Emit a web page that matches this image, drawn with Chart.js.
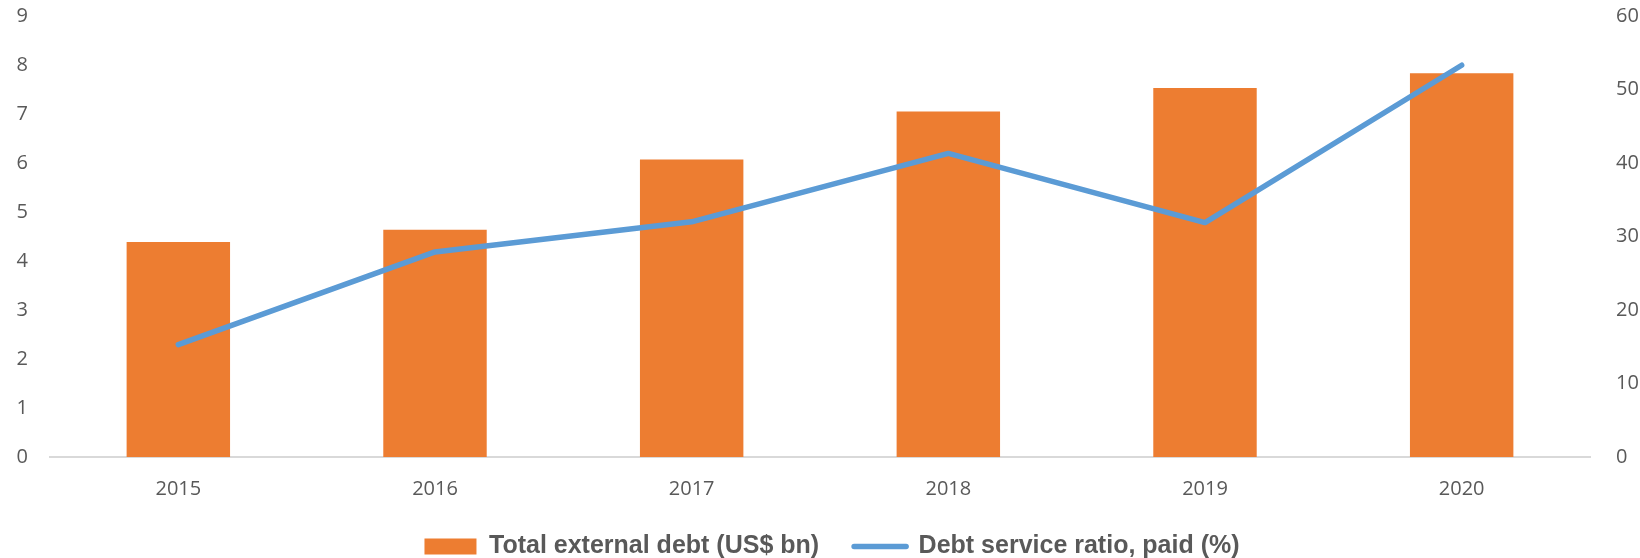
<!DOCTYPE html>
<html>
<head>
<meta charset="utf-8">
<title>External debt</title>
<script src="https://cdn.jsdelivr.net/npm/chart.js@4/dist/chart.umd.min.js"></script>
<style>
  html, body { margin: 0; padding: 0; background: #ffffff; }
  #wrap { width: 1640px; height: 558px; position: relative; }
</style>
</head>
<body>
<div id="wrap"><canvas id="debt-chart"></canvas></div>
<script>
// Data
const years = ['2015', '2016', '2017', '2018', '2019', '2020'];
const externalDebt = [4.39, 4.64, 6.07, 7.05, 7.53, 7.83];      // US$ bn, left axis
const debtServiceRatio = [15.3, 27.9, 32.0, 41.3, 31.9, 53.3];  // %, right axis
const leftTicks = [0, 1, 2, 3, 4, 5, 6, 7, 8, 9];
const rightTicks = [0, 10, 20, 30, 40, 50, 60];

const ORANGE = '#ed7d31';
const BLUE = '#5b9bd5';
const TEXT = '#595959';
const AXIS_LINE = '#d9d9d9';

const tickFont = { family: '"Open Sans", "Liberation Sans", sans-serif', size: 20 };
const legendFont = { family: '"Liberation Sans", Arial, sans-serif', size: 25, weight: 'bold' };

// keep the y axes from reserving extra room above the plot for their labels
function trimAxisPadding(scale) {
  scale.paddingTop = 0;
  scale.paddingBottom = 0;
}

const ctx = document.getElementById('debt-chart');

new Chart(ctx, {
  type: 'bar',
  data: {
    labels: years,
    datasets: [
      {
        type: 'bar',
        label: 'Total external debt (US$ bn)',
        data: externalDebt,
        backgroundColor: ORANGE,
        borderWidth: 0,
        yAxisID: 'y',
        order: 1,
        barPercentage: 0.403,
        categoryPercentage: 1.0
      },
      {
        type: 'line',
        label: 'Debt service ratio, paid (%)',
        data: debtServiceRatio,
        borderColor: BLUE,
        backgroundColor: BLUE,
        borderWidth: 5.5,
        borderCapStyle: 'round',
        borderJoinStyle: 'round',
        pointRadius: 0,
        tension: 0,
        yAxisID: 'y1',
        order: 0
      }
    ]
  },
  options: {
    responsive: true,
    maintainAspectRatio: false,
    animation: false,
    // negative right padding nudges the centred legend a little to the right
    layout: { padding: { top: 16, left: 0, right: -24, bottom: 0 } },
    plugins: {
      tooltip: { enabled: false },
      legend: {
        position: 'bottom',
        maxHeight: 59,
        labels: {
          usePointStyle: true,
          pointStyleWidth: 52,
          boxHeight: 16,
          padding: 35,
          color: TEXT,
          font: legendFont,
          generateLabels: function(chart) {
            return chart.data.datasets.map((ds, i) => ({
              text: ds.label,
              datasetIndex: i,
              fontColor: TEXT,
              fillStyle: ds.type === 'bar' ? ORANGE : BLUE,
              strokeStyle: ds.type === 'bar' ? ORANGE : BLUE,
              lineWidth: ds.type === 'bar' ? 0 : 5.5,
              lineCap: 'round',
              pointStyle: ds.type === 'bar' ? 'rect' : 'line',
              hidden: false
            }));
          }
        }
      }
    },
    scales: {
      x: {
        grid: { display: false, drawTicks: false },
        border: { display: true, color: AXIS_LINE, width: 2 },
        ticks: { color: TEXT, font: tickFont, padding: 20 },
        afterFit: function(scale) { scale.height = 42; }
      },
      y: {
        position: 'left',
        min: 0,
        max: 9,
        afterBuildTicks: function(scale) { scale.ticks = leftTicks.map(v => ({ value: v })); },
        grid: { display: false, drawTicks: false },
        border: { display: false },
        ticks: { color: TEXT, font: tickFont, padding: 22 },
        afterFit: function(scale) { scale.width = 50; trimAxisPadding(scale); }
      },
      y1: {
        position: 'right',
        min: 0,
        max: 60,
        afterBuildTicks: function(scale) { scale.ticks = rightTicks.map(v => ({ value: v })); },
        grid: { display: false, drawTicks: false },
        border: { display: false },
        ticks: { color: TEXT, font: tickFont, padding: 26 },
        afterFit: function(scale) { scale.width = 74; trimAxisPadding(scale); }
      }
    }
  }
});
</script>
</body>
</html>
